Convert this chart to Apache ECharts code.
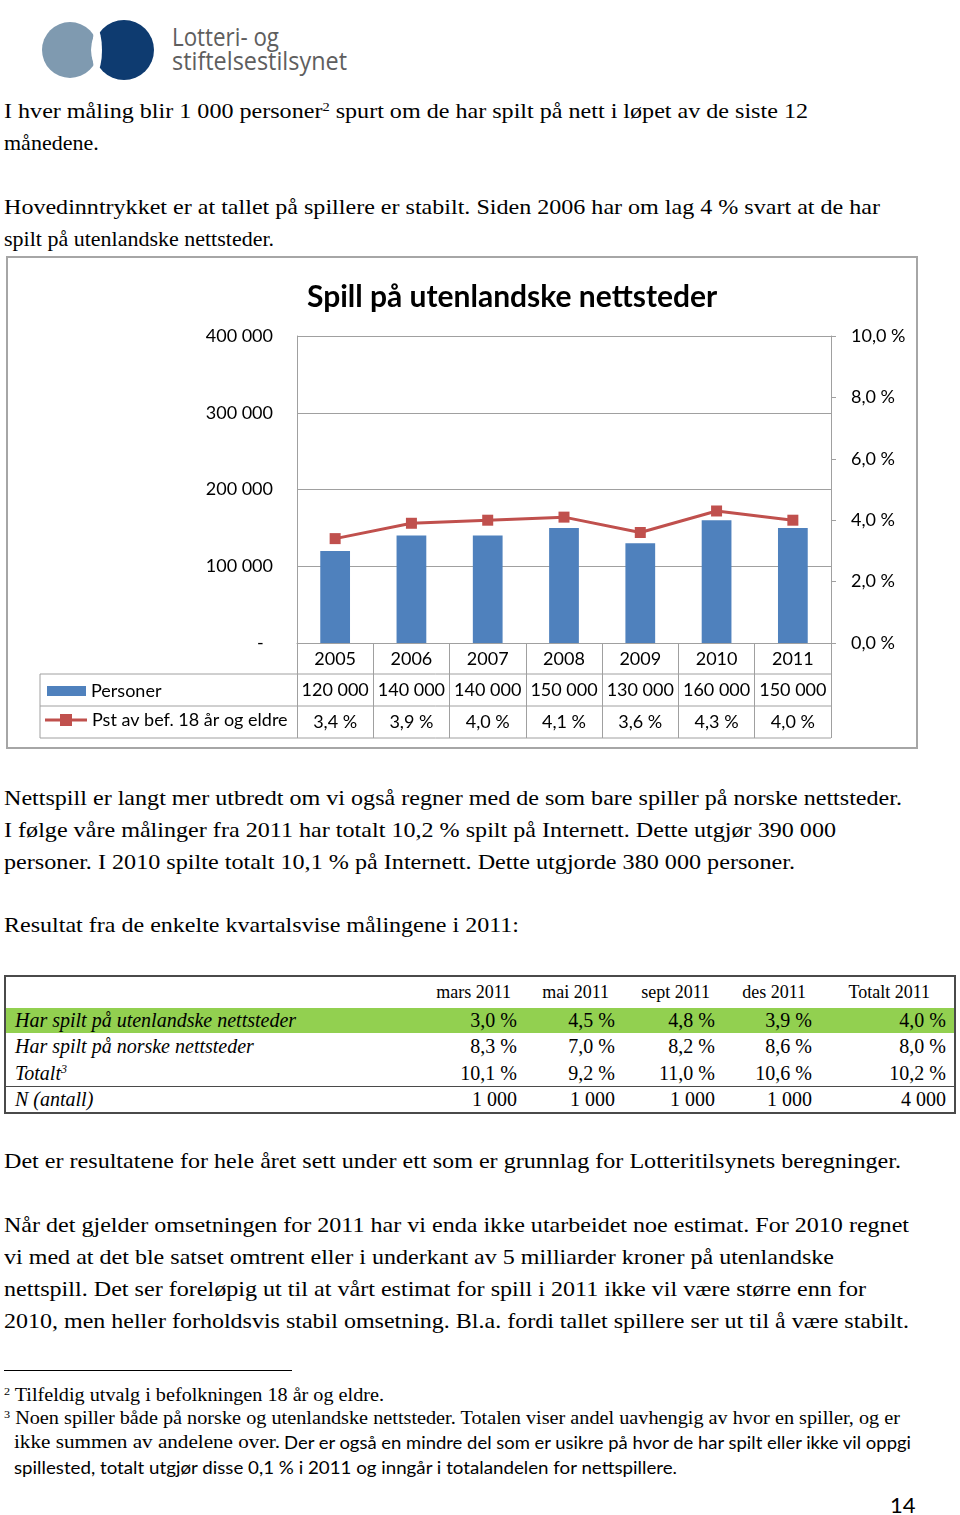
<!DOCTYPE html>
<html><head><meta charset="utf-8">
<script src="https://cdn.jsdelivr.net/npm/echarts/dist/echarts.min.js"></script>
<style>
html,body{margin:0;padding:0;background:#fff;}
#page{position:relative;width:960px;height:1515px;overflow:hidden;background:#fff;}
.t{position:absolute;left:4px;white-space:nowrap;font-family:"Liberation Serif","Times New Roman",serif;font-size:22px;line-height:32px;color:#000;transform-origin:0 50%;}
.fn{position:absolute;white-space:nowrap;font-family:"Liberation Serif","Times New Roman",serif;font-size:19px;line-height:24px;color:#000;transform-origin:0 50%;}
.sans{font-family:Lato,"Open Sans",sans-serif;}
sup{font-size:0.6em;vertical-align:0.55em;line-height:0}
#chart{position:absolute;left:0;top:250px;width:960px;height:510px;}
#qt{position:absolute;left:4px;top:975px;width:952px;height:139px;border:2px solid #4a4a4a;box-sizing:border-box;font-family:"Liberation Serif","Times New Roman",serif;color:#000;}
#qt .c{position:absolute;white-space:nowrap;line-height:26px;}
.logo-t{position:absolute;left:172px;white-space:nowrap;font-family:"Open Sans",Lato,sans-serif;font-size:26px;line-height:26px;color:#5e5e5e;transform-origin:0 50%;}
</style></head>
<body>
<div id="page">
  <svg style="position:absolute;left:0;top:0" width="170" height="95" viewBox="0 0 170 95">
    <circle cx="70" cy="50" r="28" fill="#7f9ab0"/>
    <circle cx="124" cy="50" r="33" fill="#fff"/>
    <circle cx="124" cy="50" r="30" fill="#0e3b70"/>
    <ellipse cx="97" cy="50" rx="5" ry="21" fill="#fff"/>
  </svg>
  <div class="logo-t" style="top:23px" data-r="279">Lotteri- og</div>
  <div class="logo-t" style="top:47px" data-r="347">stiftelsestilsynet</div>

  <div class="t" style="top:95px" data-r="808">I hver måling blir 1 000 personer<sup>2</sup> spurt om de har spilt på nett i løpet av de siste 12</div>
  <div class="t" style="top:127px">månedene.</div>
  <div class="t" style="top:191px" data-r="880">Hovedinntrykket er at tallet på spillere er stabilt. Siden 2006 har om lag 4 % svart at de har</div>
  <div class="t" style="top:223px">spilt på utenlandske nettsteder.</div>

  <div id="chart"></div>

  <div class="t" style="top:782px" data-r="902">Nettspill er langt mer utbredt om vi også regner med de som bare spiller på norske nettsteder.</div>
  <div class="t" style="top:814px" data-r="836">I følge våre målinger fra 2011 har totalt 10,2 % spilt på Internett. Dette utgjør 390 000</div>
  <div class="t" style="top:846px" data-r="795">personer. I 2010 spilte totalt 10,1 % på Internett. Dette utgjorde 380 000 personer.</div>
  <div class="t" style="top:909px" data-r="519">Resultat fra de enkelte kvartalsvise målingene i 2011:</div>

  <div id="qt"></div>

  <div class="t" style="top:1145px" data-r="901">Det er resultatene for hele året sett under ett som er grunnlag for Lotteritilsynets beregninger.</div>
  <div class="t" style="top:1209px" data-r="909">Når det gjelder omsetningen for 2011 har vi enda ikke utarbeidet noe estimat. For 2010 regnet</div>
  <div class="t" style="top:1241px" data-r="834">vi med at det ble satset omtrent eller i underkant av 5 milliarder kroner på utenlandske</div>
  <div class="t" style="top:1273px" data-r="866">nettspill. Det ser foreløpig ut til at vårt estimat for spill i 2011 ikke vil være større enn for</div>
  <div class="t" style="top:1305px" data-r="909">2010, men heller forholdsvis stabil omsetning. Bl.a. fordi tallet spillere ser ut til å være stabilt.</div>

  <div style="position:absolute;left:4px;top:1370px;width:288px;height:1px;background:#000"></div>
  <div class="fn" style="left:4px;top:1383px" data-r="384"><sup>2</sup> Tilfeldig utvalg i befolkningen 18 år og eldre.</div>
  <div class="fn" style="left:4px;top:1406px" data-r="900"><sup>3</sup> Noen spiller både på norske og utenlandske nettsteder. Totalen viser andel uavhengig av hvor en spiller, og er</div>
  <div class="fn" style="left:14px;top:1430px" data-r="280">ikke summen av andelene over.</div>
  <div class="fn sans" style="left:284px;top:1430px;font-size:18px" data-r="911">Der er også en mindre del som er usikre på hvor de har spilt eller ikke vil oppgi</div>
  <div class="fn sans" style="left:14px;top:1455px;font-size:18px" data-r="677">spillested, totalt utgjør disse 0,1 % i 2011 og inngår i totalandelen for nettspillere.</div>
  <div class="fn sans" style="left:890px;top:1492px;font-size:22px;line-height:26px">14</div>
</div>

<script>
// ---------- Chart data ----------
const years = ['2005', '2006', '2007', '2008', '2009', '2010', '2011'];
const personer = [120000, 140000, 140000, 150000, 130000, 160000, 150000];
const pstAvBef = [3.4, 3.9, 4.0, 4.1, 3.6, 4.3, 4.0];
const seriesNames = ['Personer', 'Pst av bef. 18 år og eldre'];
const chartTitle = 'Spill på utenlandske nettsteder';
const leftAxisTicks = [0, 100000, 200000, 300000, 400000];
const rightAxisTicks = [0, 2, 4, 6, 8, 10];

// ---------- Quarterly table data ----------
const quarterHeaders = ['mars 2011', 'mai 2011', 'sept 2011', 'des 2011', 'Totalt 2011'];
const rowLabels = ['Har spilt på utenlandske nettsteder', 'Har spilt på norske nettsteder', 'Totalt<sup>3</sup>', 'N (antall)'];
const utenlandske = [3.0, 4.5, 4.8, 3.9, 4.0];
const norske = [8.3, 7.0, 8.2, 8.6, 8.0];
const totalt = [10.1, 9.2, 11.0, 10.6, 10.2];
const antall = [1000, 1000, 1000, 1000, 4000];

const fmtThousands = v => String(v).replace(/\B(?=(\d{3})+(?!\d))/g, ' ');
const fmtPct = v => v.toFixed(1).replace('.', ',') + ' %';

// ---------- Build quarterly table ----------
(function(){
  const qt = document.getElementById('qt');
  const valRight = [517, 615, 715, 812, 946];
  const hdrRight = [511, 609, 710, 806, 930];
  const rowCenters = [17, 45, 71, 98, 124];
  const inner = 4 + 2;
  const innerTop = 975 + 2;
  function add(html, center, style){
    const d = document.createElement('div');
    d.className = 'c';
    d.innerHTML = html;
    d.style.cssText += style + ';top:' + (center - 2 - 13) + 'px';
    qt.appendChild(d);
  }
  const g = document.createElement('div');
  g.style.cssText = 'position:absolute;left:0;right:0;top:' + (1008 - innerTop) + 'px;height:25px;background:#92d050';
  qt.appendChild(g);
  const ln = document.createElement('div');
  ln.style.cssText = 'position:absolute;left:0;right:0;top:' + (1086 - innerTop) + 'px;height:1px;background:#4a4a4a';
  qt.appendChild(ln);
  quarterHeaders.forEach((h, i) => add(h, rowCenters[0], 'font-size:18px;right:' + (956 - 2 - hdrRight[i]) + 'px'));
  rowLabels.forEach((l, r) => add(l, rowCenters[r + 1], 'font-size:20px;font-style:italic;left:' + (15 - inner) + 'px'));
  [utenlandske, norske, totalt].forEach((arr, r) => arr.forEach((v, i) =>
    add(fmtPct(v), rowCenters[r + 1], 'font-size:20px;right:' + (956 - 2 - valRight[i]) + 'px')));
  antall.forEach((v, i) => add(fmtThousands(v), rowCenters[4], 'font-size:20px;right:' + (956 - 2 - valRight[i]) + 'px'));
})();

// ---------- fit text lines ----------
document.querySelectorAll('[data-r]').forEach(el => {
  const target = +el.dataset.r - el.offsetLeft;
  const w = el.getBoundingClientRect().width;
  if (w > 0) el.style.transform = 'scaleX(' + (target / w) + ')';
});

// ---------- Chart ----------
const FONT = 'Lato';
const GRID = {left: 297, right: 129, top: 86, bottom: 117};
const CH = 510;
const axisBottom = CH - GRID.bottom;
const ROW = [31, 63, 95];
const gray = '#a0a0a0';
const chart = echarts.init(document.getElementById('chart'), null, {renderer: 'canvas'});
const labelStyle = {color: '#000', fontFamily: FONT, fontSize: 18};
const lineKeyIcon = 'path://M0,4.5H42V7.5H0Z M15,0H27V12H15Z';

chart.setOption({
  animation: false,
  backgroundColor: 'rgba(0,0,0,0)',
  title: {
    text: chartTitle, left: 302, top: 27,
    textStyle: {fontFamily: FONT, fontWeight: 'bold', fontSize: 30, color: '#000'}
  },
  grid: {left: GRID.left, right: GRID.right, top: GRID.top, bottom: GRID.bottom, containLabel: false},
  legend: [
    {data: [{name: seriesNames[0], icon: 'rect'}], orient: 'vertical', left: 47, top: 431, padding: 0,
     itemWidth: 39, itemHeight: 10, itemGap: 4, selectedMode: false,
     textStyle: Object.assign({lineHeight: 20}, labelStyle)},
    {data: [{name: seriesNames[1], icon: lineKeyIcon}], orient: 'vertical', left: 45, top: 460, padding: 0,
     itemWidth: 42, itemHeight: 12, itemGap: 4, selectedMode: false,
     textStyle: Object.assign({lineHeight: 20}, labelStyle)}
  ],
  xAxis: [
    {type: 'category', data: years, position: 'bottom',
     axisLine: {show: true, lineStyle: {color: gray, width: 1}},
     axisTick: {show: true, length: ROW[2], interval: 0, lineStyle: {color: gray}},
     axisLabel: Object.assign({margin: 7, interval: 0}, labelStyle)},
    {type: 'category', data: personer.map(fmtThousands), position: 'bottom', offset: ROW[0],
     axisLine: {show: false}, axisTick: {show: false},
     axisLabel: Object.assign({margin: 7, interval: 0}, labelStyle)},
    {type: 'category', data: pstAvBef.map(fmtPct), position: 'bottom', offset: ROW[1],
     axisLine: {show: false}, axisTick: {show: false},
     axisLabel: Object.assign({margin: 7, interval: 0}, labelStyle)}
  ],
  yAxis: [
    {type: 'value', min: leftAxisTicks[0], max: leftAxisTicks[leftAxisTicks.length - 1],
     interval: leftAxisTicks[1] - leftAxisTicks[0], position: 'left',
     axisLine: {show: true, lineStyle: {color: gray}}, axisTick: {show: false},
     splitLine: {show: true, lineStyle: {color: gray, width: 1}},
     axisLabel: Object.assign({margin: 24, formatter: v => v === 0 ? '-  ' : fmtThousands(v)}, labelStyle)},
    {type: 'value', min: rightAxisTicks[0], max: rightAxisTicks[rightAxisTicks.length - 1],
     interval: rightAxisTicks[1] - rightAxisTicks[0], position: 'right',
     axisLine: {show: true, lineStyle: {color: gray}},
     axisTick: {show: true, length: 5, lineStyle: {color: gray}},
     splitLine: {show: false},
     axisLabel: Object.assign({margin: 20, formatter: v => fmtPct(v)}, labelStyle)}
  ],
  series: [
    {name: seriesNames[0], type: 'bar', data: personer, xAxisIndex: 0, yAxisIndex: 0,
     barWidth: '39%', itemStyle: {color: '#4f81bd'}},
    {name: seriesNames[1], type: 'line', data: pstAvBef, xAxisIndex: 0, yAxisIndex: 1,
     symbol: 'rect', symbolSize: 11, showSymbol: true,
     lineStyle: {color: '#c0504d', width: 3}, itemStyle: {color: '#c0504d'}, z: 5}
  ],
  graphic: [
    {type: 'rect', shape: {x: 7, y: 7, width: 910, height: 491},
     style: {fill: 'rgba(0,0,0,0)', stroke: '#a6a6a6', lineWidth: 2}, silent: true},
    ...ROW.map(dy => ({type: 'line', shape: {x1: 40, y1: axisBottom + dy, x2: 960 - GRID.right, y2: axisBottom + dy},
      style: {stroke: gray, lineWidth: 1}, silent: true})),
    {type: 'line', shape: {x1: 40, y1: axisBottom + ROW[0], x2: 40, y2: axisBottom + ROW[2]},
     style: {stroke: gray, lineWidth: 1}, silent: true}
  ]
});
</script>
</body></html>
